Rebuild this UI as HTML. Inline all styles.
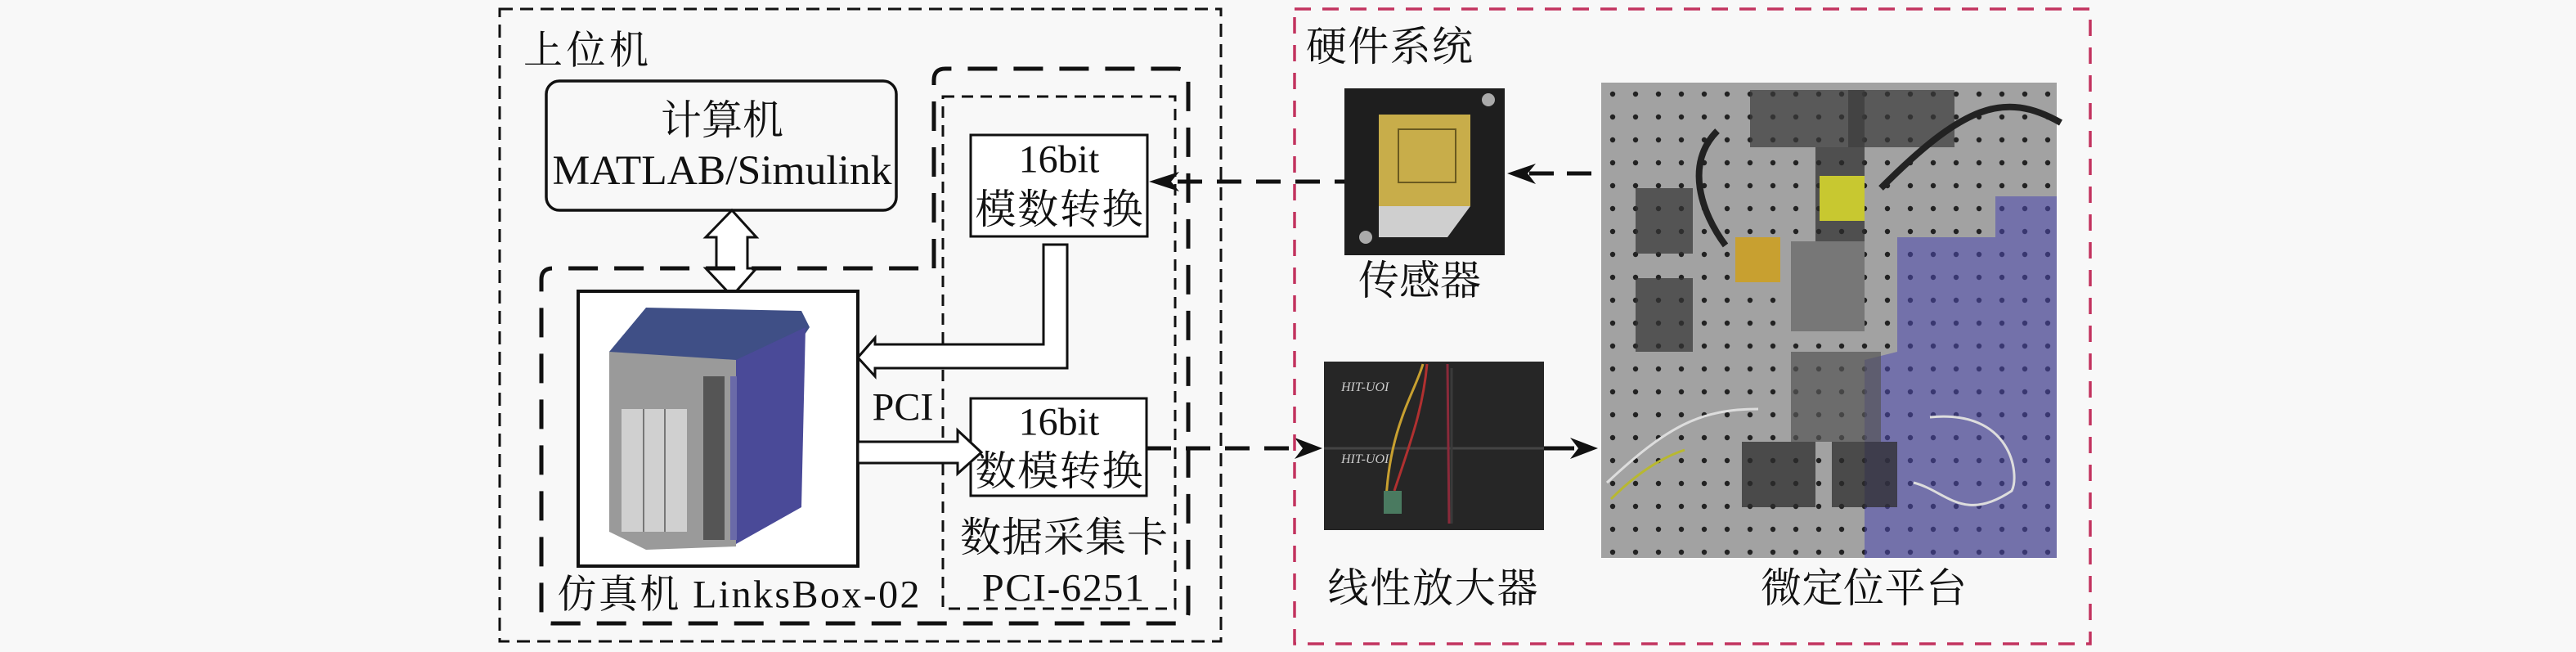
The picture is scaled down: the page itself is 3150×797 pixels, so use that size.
<!DOCTYPE html>
<html><head><meta charset="utf-8"><style>
html,body{margin:0;padding:0;background:#f8f8f8;}
svg{display:block;}
text{font-family:"Liberation Serif","Noto Serif CJK SC",serif;fill:#111;}
</style></head><body>
<svg width="3150" height="797" viewBox="0 0 3150 797" xmlns="http://www.w3.org/2000/svg">
<defs>
<pattern id="dots" x="1958" y="101" width="28" height="28" patternUnits="userSpaceOnUse">
<rect width="28" height="28" fill="#a2a2a2"/><circle cx="14" cy="14" r="3.2" fill="#222"/>
</pattern>
</defs>
<rect width="3150" height="797" fill="#f8f8f8"/>

<!-- 上位机 outer -->
<rect x="611" y="11" width="882" height="773" fill="none" stroke="#111" stroke-width="3" stroke-dasharray="16,9"/>
<text x="640" y="62" font-size="48" dominant-baseline="central" textLength="153">上位机</text>

<!-- computer box -->
<rect x="668" y="99" width="428" height="158" rx="16" fill="none" stroke="#111" stroke-width="3.5"/>
<text x="883" y="147" font-size="50" text-anchor="middle" dominant-baseline="central">计算机</text>
<text x="883" y="209" font-size="51" text-anchor="middle" dominant-baseline="central" textLength="415" lengthAdjust="spacingAndGlyphs">MATLAB/Simulink</text>

<!-- double hollow arrow -->
<polygon points="895,257 925,290 914,290 914,328 925,328 895,362 863,328 876,328 876,290 863,290" fill="#fff" stroke="#111" stroke-width="3"/>

<!-- L dashed region (thick) -->
<path d="M1142,328 L1142,98 Q1142,84 1156,84 L1439,84 Q1453,84 1453,98 L1453,748 Q1453,762 1439,762 L676,762 Q662,762 662,748 L662,342 Q662,328 676,328 Z" fill="none" stroke="#111" stroke-width="5" stroke-dasharray="36,20"/>
<!-- inner thin dashed -->
<rect x="1153" y="118" width="284" height="626" fill="none" stroke="#111" stroke-width="3" stroke-dasharray="14,9"/>

<!-- simulator box -->
<rect x="707" y="356" width="342" height="336" fill="#fff" stroke="#111" stroke-width="4"/>
<polygon points="790,376 980,380 990,400 960,445 760,440 745,430" fill="#3f4f86"/>
<polygon points="900,440 985,400 980,620 900,665" fill="#4a4a98"/>
<polygon points="745,430 900,440 900,668 790,672 745,650" fill="#9a9a9a"/>
<rect x="760" y="500" width="80" height="150" fill="#d0d0d0"/>
<line x1="787" y1="500" x2="787" y2="650" stroke="#777" stroke-width="2"/>
<line x1="813" y1="500" x2="813" y2="650" stroke="#777" stroke-width="2"/>
<rect x="860" y="460" width="26" height="200" fill="#555"/>
<rect x="893" y="460" width="8" height="200" fill="#6a6aa8"/>
<text x="903" y="727" font-size="48" text-anchor="middle" dominant-baseline="central" textLength="443">仿真机 LinksBox-02</text>

<!-- A/D box -->
<rect x="1187" y="165" width="216" height="124" fill="#fff" stroke="#111" stroke-width="3"/>
<text x="1295" y="195" font-size="48" text-anchor="middle" dominant-baseline="central">16bit</text>
<text x="1295" y="256" font-size="50" text-anchor="middle" dominant-baseline="central" textLength="205">模数转换</text>
<!-- D/A box -->
<rect x="1187" y="487" width="215" height="119" fill="#fff" stroke="#111" stroke-width="3"/>
<text x="1295" y="516" font-size="48" text-anchor="middle" dominant-baseline="central">16bit</text>
<text x="1295" y="576" font-size="50" text-anchor="middle" dominant-baseline="central" textLength="205">数模转换</text>

<text x="1301" y="657" font-size="50" text-anchor="middle" dominant-baseline="central" textLength="254">数据采集卡</text>
<text x="1300" y="719" font-size="48" text-anchor="middle" dominant-baseline="central" textLength="198">PCI-6251</text>
<text x="1104" y="498" font-size="48" text-anchor="middle" dominant-baseline="central">PCI</text>

<polygon points="1276,299 1305,299 1305,450 1070,450 1070,460 1049,437 1070,413 1070,421 1276,421" fill="#fff" stroke="#111" stroke-width="3"/>
<polygon points="1049,540 1171,540 1171,526 1200,553 1171,579 1171,566 1049,566" fill="#fff" stroke="#111" stroke-width="3"/>

<line x1="1440" y1="222" x2="1644" y2="222" stroke="#111" stroke-width="5" stroke-dasharray="30,18"/>
<polygon points="1405,222 1442,210 1432,222 1442,234" fill="#111"/>
<line x1="1402" y1="548" x2="1585" y2="548" stroke="#111" stroke-width="5" stroke-dasharray="30,18"/>
<polygon points="1617,548 1583,535 1593,548 1583,561" fill="#111"/>

<rect x="1583" y="11" width="973" height="776" fill="none" stroke="#c2335f" stroke-width="3.5" stroke-dasharray="20,14"/>
<text x="1597" y="57" font-size="50" dominant-baseline="central" textLength="204">硬件系统</text>

<rect x="1644" y="108" width="196" height="204" fill="#1e1e1e"/>
<rect x="1686" y="140" width="112" height="112" fill="#c8ad4a"/>
<rect x="1710" y="158" width="70" height="65" fill="none" stroke="#6a5a20" stroke-width="2"/>
<polygon points="1686,252 1798,252 1770,290 1686,290" fill="#cfcfcf"/>
<circle cx="1820" cy="122" r="8" fill="#aaa"/><circle cx="1670" cy="290" r="8" fill="#aaa"/>
<text x="1736" y="343" font-size="50" text-anchor="middle" dominant-baseline="central" textLength="150">传感器</text>

<line x1="1870" y1="212" x2="1958" y2="212" stroke="#111" stroke-width="5" stroke-dasharray="30,16"/>
<polygon points="1843,212 1878,200 1868,212 1878,225" fill="#111"/>

<rect x="1619" y="442" width="269" height="206" fill="#262626"/>
<line x1="1619" y1="548" x2="1888" y2="548" stroke="#444" stroke-width="3"/>
<line x1="1775" y1="450" x2="1775" y2="640" stroke="#3a3a3a" stroke-width="3"/>
<text x="1640" y="478" font-size="16" style="fill:#ccc" font-style="italic">HIT-UOI</text>
<text x="1640" y="566" font-size="16" style="fill:#ccc" font-style="italic">HIT-UOI</text>
<path d="M1740,445 C1730,480 1700,520 1695,610" stroke="#c8a030" stroke-width="3" fill="none"/>
<path d="M1745,445 C1740,500 1725,540 1705,600" stroke="#b03030" stroke-width="3" fill="none"/>
<path d="M1770,445 L1772,640" stroke="#8a2a3a" stroke-width="3" fill="none"/>
<rect x="1692" y="600" width="22" height="28" fill="#4a7a60"/>
<text x="1752" y="719" font-size="50" text-anchor="middle" dominant-baseline="central" textLength="257">线性放大器</text>

<line x1="1888" y1="548" x2="1925" y2="548" stroke="#111" stroke-width="5"/>
<polygon points="1954,548 1920,535 1930,548 1920,561" fill="#111"/>

<rect x="1958" y="101" width="557" height="581" fill="url(#dots)"/>
<polygon points="2440,240 2515,240 2515,682 2280,682 2280,440 2320,430 2320,290 2440,290" fill="#4c48b0" opacity="0.55"/>
<rect x="2140" y="110" width="140" height="70" fill="#3a3a3a" opacity="0.7"/>
<rect x="2260" y="110" width="130" height="70" fill="#3a3a3a" opacity="0.7"/>
<rect x="2220" y="180" width="60" height="150" fill="#2c2c2c" opacity="0.7"/>
<rect x="2225" y="215" width="55" height="55" fill="#c8c830"/>
<rect x="2122" y="290" width="55" height="55" fill="#c8a030"/>
<rect x="2190" y="295" width="90" height="110" fill="#777"/>
<rect x="2000" y="230" width="70" height="80" fill="#333" opacity="0.7"/>
<rect x="2000" y="340" width="70" height="90" fill="#333" opacity="0.7"/>
<rect x="2130" y="540" width="90" height="80" fill="#2c2c2c" opacity="0.75"/>
<rect x="2240" y="540" width="80" height="80" fill="#2c2c2c" opacity="0.75"/>
<rect x="2190" y="430" width="110" height="110" fill="#555" opacity="0.7"/>
<path d="M2100,160 C2060,200 2080,260 2110,300" stroke="#222" stroke-width="8" fill="none"/>
<path d="M2520,150 C2450,110 2400,130 2300,230" stroke="#222" stroke-width="8" fill="none"/>
<path d="M1965,590 C2040,520 2080,500 2150,500" stroke="#ddd" stroke-width="3" fill="none"/>
<path d="M2360,510 C2460,500 2470,580 2460,600 C2400,640 2380,600 2340,590" stroke="#ddd" stroke-width="3" fill="none"/>
<path d="M1970,610 C2000,580 2030,560 2060,550" stroke="#b8b830" stroke-width="3" fill="none"/>
<text x="2279" y="719" font-size="50" text-anchor="middle" dominant-baseline="central" textLength="252">微定位平台</text>
</svg>
</body></html>
